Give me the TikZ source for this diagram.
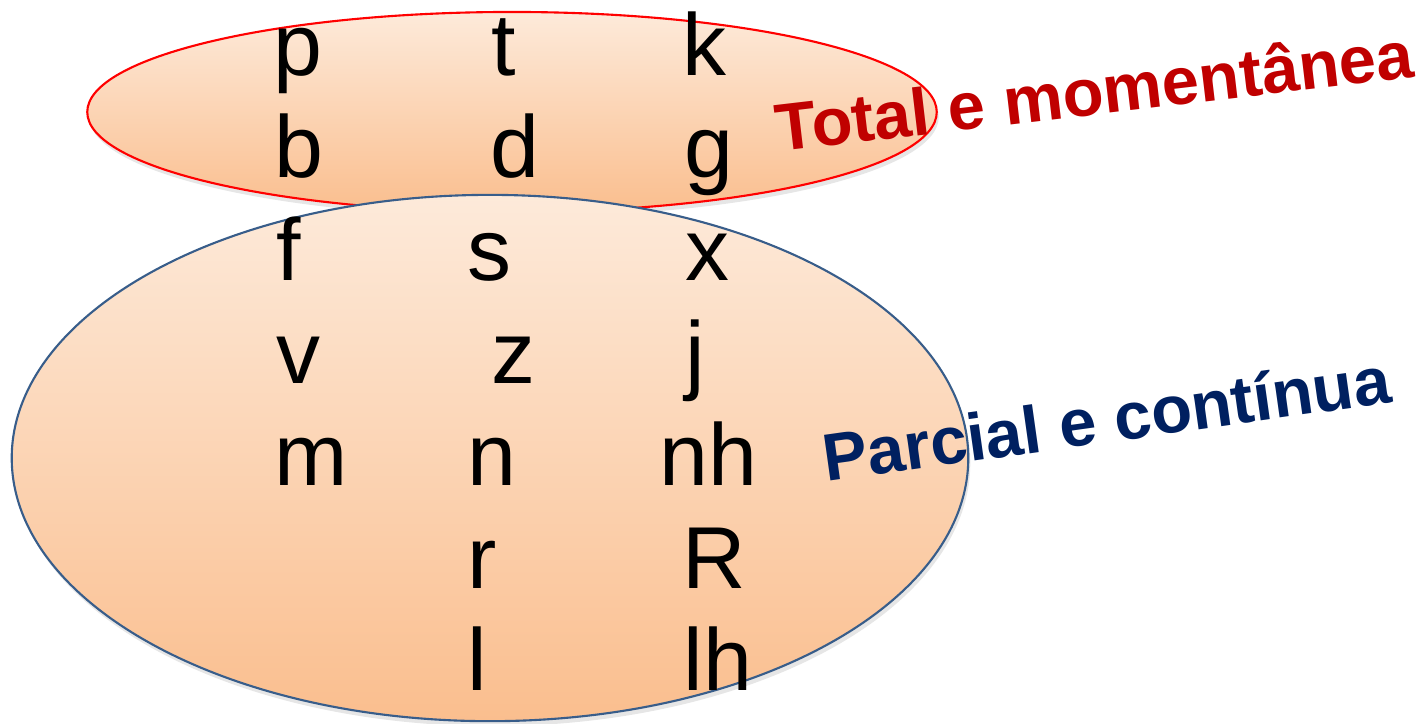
\documentclass[tikz,border=0pt]{standalone}
\usepackage{fontspec}
\setmainfont{Liberation Sans}
\usepackage{tikz}
\usetikzlibrary{shapes.geometric, shadows}
\definecolor{pessego}{RGB}{253, 234, 218}
\definecolor{laranja}{RGB}{250, 190, 142}
\definecolor{bordaazul}{RGB}{56, 93, 138}
\definecolor{vermelho}{RGB}{192, 0, 0}
\definecolor{marinho}{RGB}{0, 32, 96}

\begin{document}
\begin{tikzpicture}[
    x=0.01cm, y=-0.01cm,
    zona/.style={ellipse, inner sep=0pt, top color=pessego, bottom color=laranja, line width=0.6pt,
                 drop shadow={shadow xshift=0.02cm, shadow yshift=-0.05cm, opacity=0.2}},
    letra/.style={anchor=base west, inner sep=0pt, font=\fontsize{25}{30}\selectfont},
    rotulo/.style={anchor=base west, inner sep=0pt, font=\fontsize{19}{23}\selectfont\bfseries}
]
\useasboundingbox (0,0) rectangle (1422,723);

% zonas
\node[zona, draw=red, minimum width=8.49cm, minimum height=2.0cm] (total) at (512,112) {};
\node[zona, draw=bordaazul, minimum width=9.56cm, minimum height=5.26cm] (parcial) at (490,458) {};

% oclusivas
\node[letra] (p) at (273,75) {p};
\node[letra] (t) at (491,75) {t};
\node[letra] (k) at (682,75) {k};
\node[letra] (b) at (274,177) {b};
\node[letra] (d) at (490,177) {d};
\node[letra] (g) at (684,177) {g};

% constritivas
\node[letra] (f) at (276,280) {f};
\node[letra] (s) at (467,280) {s};
\node[letra] (x) at (685,280) {x};
\node[letra] (v) at (276,383) {v};
\node[letra] (z) at (491,383) {z};
\node[letra] (j) at (685,383) {j};
\node[letra] (m) at (274,485) {m};
\node[letra] (n) at (467,485) {n};
\node[letra] (nh) at (659,485) {nh};
\node[letra] (r) at (467,588) {r};
\node[letra] (R) at (682,588) {R};
\node[letra] (l) at (467,690) {l};
\node[letra] (lh) at (683,690) {lh};

% rotulos
\node[rotulo, text=vermelho, rotate=6.7] (momentanea) at (778,152) {Total e momentânea};
\node[rotulo, text=marinho, rotate=8] (continua) at (826,482) {Parcial e contínua};
\end{tikzpicture}
\end{document}
